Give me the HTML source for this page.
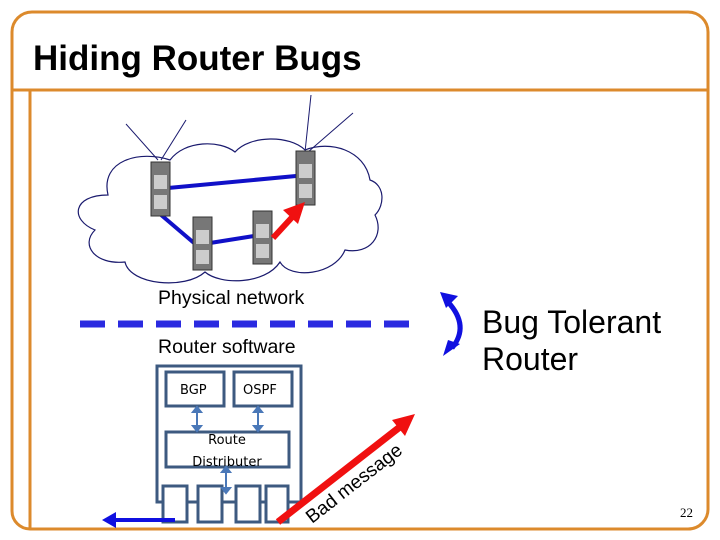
<!DOCTYPE html>
<html><head><meta charset="utf-8"><style>
html,body{margin:0;padding:0;background:#fff;}
svg{display:block;}
</style></head><body>
<svg width="720" height="540" viewBox="0 0 720 540" xmlns="http://www.w3.org/2000/svg" font-family="Liberation Sans, sans-serif">
<!-- frame -->
<path d="M32,12 H688 A20,20 0 0 1 708,32 V508 A20,20 0 0 1 688,529 H30 A18,18 0 0 1 12,511 V32 A20,20 0 0 1 32,12 Z" fill="none" stroke="#dc8a2c" stroke-width="3"/>
<line x1="12" y1="90" x2="708" y2="90" stroke="#dc8a2c" stroke-width="3"/>
<line x1="30" y1="90" x2="30" y2="529" stroke="#dc8a2c" stroke-width="3"/>
<text x="33" y="70" font-size="35" font-weight="bold">Hiding Router Bugs</text>

<!-- cloud -->
<path d="M108,195 C100,160 140,150 170,160 C185,140 220,140 235,152 C250,135 290,135 305,150 C330,140 365,150 370,180 C385,185 385,205 375,215 C385,235 370,255 345,250 C335,275 290,280 280,262 C265,285 220,285 205,272 C185,290 130,285 125,262 C95,265 80,245 95,230 C70,220 72,195 108,195 Z" fill="none" stroke="#1a1a6e" stroke-width="1.2"/>
<g stroke="#1a1a6e" stroke-width="1">
<line x1="126" y1="124" x2="158" y2="160"/><line x1="186" y1="120" x2="161" y2="160"/>
<line x1="311" y1="95" x2="305" y2="152"/><line x1="353" y1="113" x2="308" y2="152"/>
</g>
<g stroke="#1010c8" stroke-width="4">
<line x1="168" y1="188" x2="296" y2="176"/>
<line x1="160" y1="214" x2="194" y2="243"/>
<line x1="210" y1="243" x2="254" y2="236"/>
</g>
<g fill="#777" stroke="#333" stroke-width="1">
<rect x="151" y="162" width="19" height="54"/>
<rect x="193" y="217" width="19" height="53"/>
<rect x="253" y="211" width="19" height="53"/>
<rect x="296" y="151" width="19" height="54"/>
</g>
<g fill="#ccc">
<rect x="154" y="175" width="13" height="14"/><rect x="154" y="195" width="13" height="14"/>
<rect x="196" y="230" width="13" height="14"/><rect x="196" y="250" width="13" height="14"/>
<rect x="256" y="224" width="13" height="14"/><rect x="256" y="244" width="13" height="14"/>
<rect x="299" y="164" width="13" height="14"/><rect x="299" y="184" width="13" height="14"/>
</g>
<line x1="273" y1="238" x2="296" y2="213" stroke="#f01010" stroke-width="6"/>
<polygon points="305,202 283,210 298,224" fill="#f01010"/>

<text x="158" y="304" font-size="19.5">Physical network</text>
<line x1="80" y1="324" x2="412" y2="324" stroke="#2a2ae0" stroke-width="7" stroke-dasharray="25,13"/>
<text x="158" y="353" font-size="19.5">Router software</text>

<path d="M448,302 Q470,326 452,348" fill="none" stroke="#1010e0" stroke-width="5"/>
<polygon points="440,292 458,296 446,308" fill="#1010e0"/>
<polygon points="443,356 460,344 448,340" fill="#1010e0"/>
<text x="482" y="333" font-size="32">Bug Tolerant</text>
<text x="482" y="370" font-size="32">Router</text>

<g fill="#fff" stroke="#3d5a80" stroke-width="3">
<rect x="157" y="366" width="144" height="136"/>
<rect x="166" y="372" width="58" height="34"/>
<rect x="234" y="372" width="58" height="34"/>
<rect x="166" y="432" width="123" height="35"/>
<rect x="163" y="486" width="24" height="36"/>
<rect x="198" y="486" width="24" height="36"/>
<rect x="236" y="486" width="24" height="36"/>
<rect x="266" y="486" width="22" height="36"/>
</g>
<g fill="#000" font-family="DejaVu Sans, sans-serif" font-size="13">
<text x="180" y="394">BGP</text>
<text x="243" y="394">OSPF</text>
<text x="227" y="444" text-anchor="middle">Route</text>
<text x="227" y="466" text-anchor="middle">Distributer</text>
</g>
<g stroke="#4a78b8" stroke-width="2" fill="#4a78b8">
<line x1="197" y1="411" x2="197" y2="427"/><polygon points="193,412 201,412 197,407"/><polygon points="193,426 201,426 197,431"/>
<line x1="258" y1="411" x2="258" y2="427"/><polygon points="254,412 262,412 258,407"/><polygon points="254,426 262,426 258,431"/>
<line x1="226" y1="471" x2="226" y2="489"/><polygon points="222,472 230,472 226,467"/><polygon points="222,488 230,488 226,493"/>
</g>
<line x1="175" y1="520" x2="112" y2="520" stroke="#1010e0" stroke-width="4"/>
<polygon points="102,520 116,512 116,528" fill="#1010e0"/>
<line x1="278" y1="522" x2="405" y2="423" stroke="#f01010" stroke-width="7"/>
<polygon points="415,414 392,420 405,436" fill="#f01010"/>
<text x="0" y="0" font-size="19" transform="translate(312,524) rotate(-38)">Bad message</text>

<text x="680" y="517" font-size="13" font-family="Liberation Serif, serif">22</text>
</svg>
</body></html>
